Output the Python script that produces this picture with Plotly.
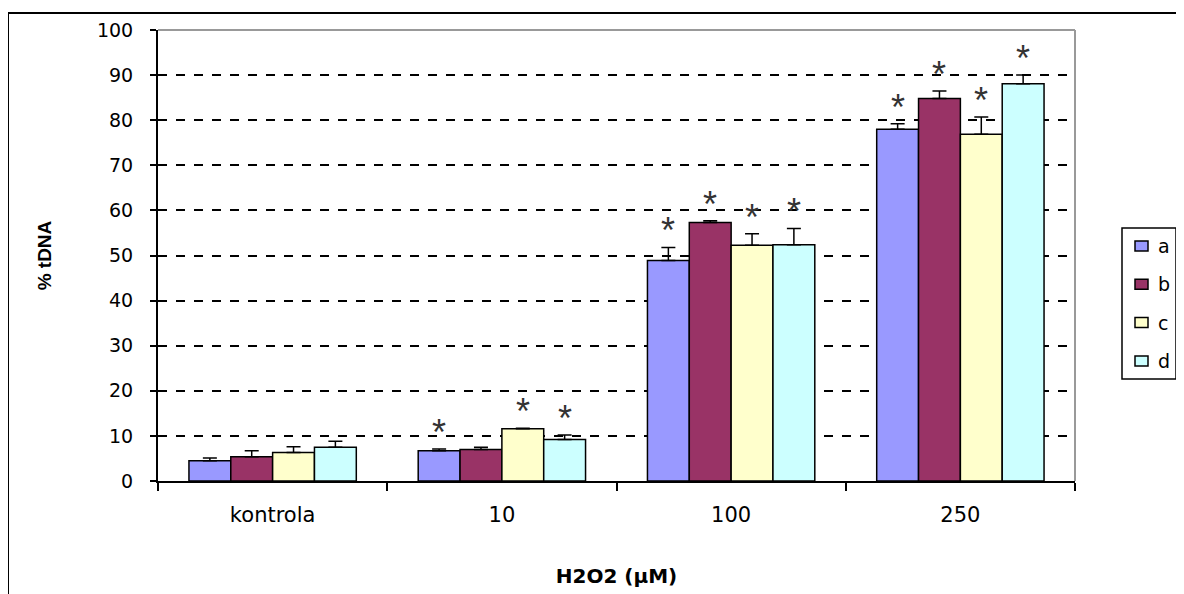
import plotly.graph_objects as go

categories = ["kontrola", "10", "100", "250"]
series_names = ["a", "b", "c", "d"]
values = {
    "a": [4.5, 6.7, 48.9, 78.0],
    "b": [5.4, 7.0, 57.3, 84.8],
    "c": [6.3, 11.6, 52.3, 76.9],
    "d": [7.5, 9.2, 52.4, 88.1],
}
errors = {
    "a": [0.6, 0.4, 2.9, 1.2],
    "b": [1.3, 0.5, 0.4, 1.7],
    "c": [1.3, 0.1, 2.5, 3.8],
    "d": [1.3, 1.0, 3.6, 1.9],
}
significant = {
    "a": [False, True, True, True],
    "b": [False, False, True, True],
    "c": [False, True, True, True],
    "d": [False, True, True, True],
}
colors = {"a": "#9999FF", "b": "#993366", "c": "#FFFFCC", "d": "#CCFFFF"}

FONT = "DejaVu Sans, sans-serif"
FONT_N = "Liberation Sans, Arial, sans-serif"

# page is offset by 8px in the browser
OFF = 8
L, T, R, B = 150, 22, 117, 121
PW = 1184 - L - R
PH = 594 - T - B


def px(xs):
    """screen x pixel -> paper x"""
    return (xs - OFF - L) / PW


def py(ys):
    """screen y pixel -> paper y"""
    return 1 - (ys - OFF - T) / PH


fig = go.Figure()
for s in series_names:
    fig.add_trace(go.Bar(
        name=s, x=categories, y=values[s],
        marker=dict(color=colors[s], line=dict(color="black", width=1.5)),
        error_y=dict(type="data", symmetric=False, array=errors[s],
                     arrayminus=[0] * len(categories),
                     color="black", thickness=1.5, width=7),
        showlegend=False,
    ))

# asterisks above significant bars
n = len(series_names)
bar_px = PW / len(categories) * (1 - 0.27) / n
annotations = []
for i, s in enumerate(series_names):
    for j, c in enumerate(categories):
        if significant[s][j]:
            annotations.append(dict(
                x=j, y=values[s][j] + errors[s][j], xref="x", yref="y",
                text="*", showarrow=False, yanchor="bottom",
                xshift=(i - (n - 1) / 2) * bar_px, yshift=-6,
                font=dict(family=FONT_N, size=36, color="#333333"),
            ))

shapes = [
    # gray plot-area border (top & right)
    dict(type="line", xref="paper", yref="paper", x0=0, x1=1, y0=1, y1=1,
         line=dict(color="#999999", width=2)),
    dict(type="line", xref="paper", yref="paper", x0=1, x1=1, y0=0, y1=1,
         line=dict(color="#999999", width=2)),
    # outer chart border (left & top)
    dict(type="line", xref="paper", yref="paper", x0=px(8), x1=1.3,
         y0=py(13), y1=py(13), line=dict(color="black", width=2)),
    dict(type="line", xref="paper", yref="paper", x0=px(8), x1=px(8),
         y0=py(13), y1=-0.4, line=dict(color="black", width=2)),
    # legend box
    dict(type="rect", xref="paper", yref="paper", x0=px(1122), x1=px(1176),
         y0=py(228), y1=py(379), line=dict(color="black", width=1.5),
         fillcolor="white"),
]

# custom legend entries built from the series
for k, s in enumerate(series_names):
    yc = 246 + k * 38.3
    shapes.append(dict(type="rect", xref="paper", yref="paper",
                       x0=px(1135), x1=px(1148), y0=py(yc - 5), y1=py(yc + 5),
                       fillcolor=colors[s], line=dict(color="black", width=1.5)))
    annotations.append(dict(x=px(1156), y=py(yc), xref="paper", yref="paper",
                            text=s, showarrow=False, xanchor="left",
                            yanchor="middle",
                            font=dict(family=FONT, size=19, color="black")))

fig.update_layout(
    width=1184, height=594,
    margin=dict(l=L, r=R, t=T, b=B),
    paper_bgcolor="white", plot_bgcolor="white",
    barmode="group", bargap=0.27, bargroupgap=0,
    font=dict(family=FONT, size=20, color="black"),
    showlegend=False,
    annotations=annotations,
    shapes=shapes,
)

fig.update_xaxes(
    type="category", showline=True, linecolor="black", linewidth=2,
    ticks="outside", tickson="boundaries", ticklen=8, tickcolor="black",
    tickwidth=1.5, tickfont=dict(size=21), ticklabelstandoff=14,
    title=dict(text="<b>H2O2 (µM)</b>", font=dict(size=20), standoff=43),
    showgrid=False,
)
fig.update_yaxes(
    range=[0, 100], tickvals=list(range(0, 101, 10)),
    showline=True, linecolor="black", linewidth=2,
    ticks="outside", ticklen=6, tickcolor="black", tickwidth=1.5,
    tickfont=dict(size=19), ticklabelstandoff=13,
    showgrid=True, gridcolor="black", gridwidth=1.5, griddash="dash",
    zeroline=False,
    title=dict(text="<b>% tDNA</b>", font=dict(family=FONT_N, size=19),
               standoff=40),
)

fig.write_html("out.html")
